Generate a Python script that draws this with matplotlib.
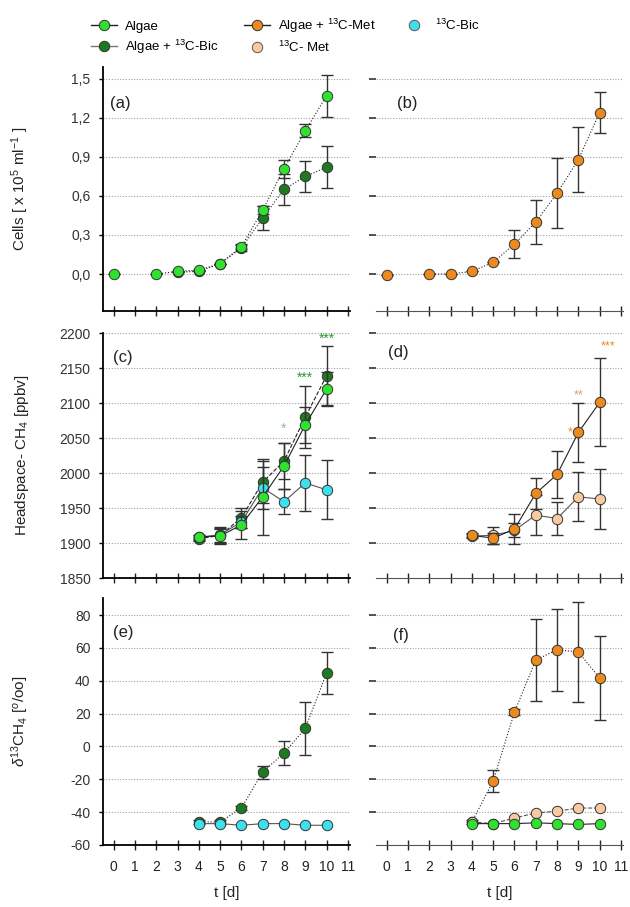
import matplotlib.pyplot as plt
from matplotlib.lines import Line2D
import numpy as np

plt.rcParams['font.family'] = ['Liberation Sans', 'DejaVu Sans']
plt.rcParams['mathtext.fontset'] = 'custom'
plt.rcParams['mathtext.rm'] = 'Liberation Sans'
plt.rcParams['mathtext.it'] = 'Liberation Sans:italic'

nan = np.nan

# --- cell counts (a, b) ---
days_cells = [0, 1, 2, 3, 4, 5, 6, 7, 8, 9, 10]
cells_algae = [0.0, nan, 0.0, 0.02, 0.03, 0.08, 0.21, 0.49, 0.81, 1.10, 1.37]
cells_algae_err = [0, 0, 0, 0, 0, 0, 0.02, 0.03, 0.07, 0.05, 0.16]
days_cells_bic = [3, 4, 5, 6, 7, 8, 9, 10]
cells_bic = [0.015, 0.02, 0.08, 0.20, 0.43, 0.65, 0.75, 0.82]
cells_bic_err = [0, 0, 0, 0.02, 0.09, 0.12, 0.12, 0.16]
cells_met = [-0.01, nan, 0.0, 0.0, 0.02, 0.09, 0.23, 0.40, 0.62, 0.88, 1.24]
cells_met_err = [0, 0, 0, 0, 0, 0, 0.11, 0.17, 0.27, 0.25, 0.16]

# --- headspace CH4 (c, d) ---
days = [4, 5, 6, 7, 8, 9, 10]
ch4_algae = [1909, 1910, 1926, 1966, 2010, 2069, 2120]
ch4_algae_err = [3, 10, 20, 54, 33, 26, 24]
ch4_bic = [1906, 1911, 1936, 1987, 2017, 2080, 2139]
ch4_bic_err = [3, 12, 14, 30, 26, 44, 42]
ch4_cbic = [1908, 1912, 1930, 1979, 1959, 1986, 1976]
ch4_cbic_err = [3, 10, 8, 30, 18, 40, 42]
ch4_met = [1911, 1907, 1920, 1971, 1998, 2058, 2101]
ch4_met_err = [3, 8, 22, 22, 34, 42, 63]
ch4_cmet = [1910, 1911, 1918, 1940, 1935, 1966, 1963]
ch4_cmet_err = [3, 12, 10, 29, 24, 35, 43]

# --- delta 13C (e, f) ---
d13_bic = [-46, -46, -37.5, -15.6, -4, 11, 44.7]
d13_bic_err = [1, 1, 1.5, 4, 7.5, 16, 13]
d13_cbic = [-47, -47, -48, -47, -47, -48, -48]
d13_met = [-46, -21, 21, 52.6, 59, 57.5, 41.7]
d13_met_err = [1, 6.5, 2, 25, 25, 30.5, 25.5]
d13_cmet = [-46, -47, -43.6, -40.5, -39.4, -37.5, -37.5]
d13_algae = [-47, -47, -47, -46.5, -47, -47.5, -47]

C_ALG = '#2fe22f'
C_BIC = '#1f7a1f'
C_MET = '#ec8a1e'
C_CMET = '#f7caa0'
C_CBIC = '#3fe0ee'


def series(ax, x, y, err, color, ls='-', lc='#222222', z=3, ecol='#333333'):
    if err is not None:
        ax.errorbar(x, y, yerr=err, fmt='none', ecolor=ecol, elinewidth=1,
                    capsize=4, capthick=1, zorder=z)
    ax.plot(x, y, ls=ls, color=lc, lw=0.8, marker='o', ms=7.5, mfc=color,
            mec='#333333', mew=0.7, zorder=z + 0.5)


def style(ax, left, yticks, ylabels, xlabels):
    ax.set_xlim(-0.5, 11.1)
    ax.set_xticks(range(12))
    ax.set_yticks(yticks)
    for yv in yticks:
        ax.axhline(yv, ls=(0, (1, 1.5)), color='#a0a0a0', lw=0.8, zorder=0)
    ax.spines['top'].set_visible(False)
    ax.spines['right'].set_visible(False)
    ax.tick_params(axis='x', direction='inout', length=7, width=1, pad=7,
                   labelsize=10, colors='#222222')
    if left:
        ax.spines['left'].set_linewidth(1.3)
        ax.spines['bottom'].set_linewidth(1.3)
        ax.set_yticklabels(ylabels)
        ax.tick_params(axis='y', length=3, width=1, pad=6, labelsize=10,
                       labelcolor='#333333')
    else:
        ax.spines['left'].set_visible(False)
        ax.spines['bottom'].set_color('#555555')
        ax.set_yticklabels([])
        ax.tick_params(axis='y', length=5, width=1.2, pad=2, color='#333333')
    if not xlabels:
        ax.set_xticklabels([])
    else:
        ax.set_xlabel('t [d]', fontsize=11, labelpad=9, color='#222222')


fig = plt.figure(figsize=(6.3, 9.07), dpi=100)
L, R, W = 0.1635, 0.597, 0.392
axa = fig.add_axes([L, 0.657, W, 0.269])
axb = fig.add_axes([R, 0.657, W, 0.269])
axc = fig.add_axes([L, 0.3627, W, 0.270])
axd = fig.add_axes([R, 0.3627, W, 0.270])
axe = fig.add_axes([L, 0.0684, W, 0.272])
axf = fig.add_axes([R, 0.0684, W, 0.272])

# (a)
series(axa, days_cells_bic, cells_bic, cells_bic_err, C_BIC, ls=':', z=3)
series(axa, days_cells, cells_algae, cells_algae_err, C_ALG, ls=':', z=4)
# (b)
series(axb, days_cells, cells_met, cells_met_err, C_MET, ls=':', z=3)

cell_ticks = [0.0, 0.3, 0.6, 0.9, 1.2, 1.5]
cell_labels = ['0,0', '0,3', '0,6', '0,9', '1,2', '1,5']
for ax in (axa, axb):
    ax.set_ylim(-0.285, 1.59)
style(axa, True, cell_ticks, cell_labels, False)
style(axb, False, cell_ticks, cell_labels, False)
axa.set_ylabel(r'Cells [ x 10$^5$ ml$^{-1}$ ]', fontsize=11, color='#222222')

# (c)
series(axc, days, ch4_bic, ch4_bic_err, C_BIC, ls='--', z=3)
series(axc, days, ch4_cbic, ch4_cbic_err, C_CBIC, ls='-', lc='#555555', z=4)
series(axc, days, ch4_algae, ch4_algae_err, C_ALG, ls='-', z=5)
axc.text(8, 2058, '*', color='#8fbf8f', ha='center', fontsize=10)
axc.text(9, 2130, '***', color='#2a9a2a', ha='center', fontsize=10)
axc.text(10, 2186, '***', color='#2a9a2a', ha='center', fontsize=10)
# (d)
series(axd, days, ch4_cmet, ch4_cmet_err, C_CMET, ls='-', lc='#555555', z=3)
series(axd, days, ch4_met, ch4_met_err, C_MET, ls='-', z=4)
axd.text(8.6, 2054, '*', color=C_MET, ha='center', fontsize=9)
axd.text(9, 2106, '**', color='#d9a070', ha='center', fontsize=9)
axd.text(10.4, 2176, '***', color=C_MET, ha='center', fontsize=9)

ch4_ticks = [1850, 1900, 1950, 2000, 2050, 2100, 2150, 2200]
for ax in (axc, axd):
    ax.set_ylim(1850, 2200)
style(axc, True, ch4_ticks[1:], [str(t) for t in ch4_ticks[1:]], False)
axc.set_yticks(ch4_ticks)
axc.set_yticklabels([str(t) for t in ch4_ticks])
style(axd, False, ch4_ticks[1:], [], False)
axc.set_ylabel(r'Headspace- CH$_4$ [ppbv]', fontsize=11, color='#222222')

# (e)
series(axe, days, d13_bic, d13_bic_err, C_BIC, ls=':', z=3)
series(axe, days, d13_cbic, None, C_CBIC, ls='-', lc='#555555', z=4)
# (f)
series(axf, days, d13_met, d13_met_err, C_MET, ls=':', z=3)
series(axf, days, d13_cmet, None, C_CMET, ls='--', lc='#555555', z=4)
series(axf, days, d13_algae, None, C_ALG, ls='-', z=5)

d13_ticks = [-40, -20, 0, 20, 40, 60, 80]
for ax in (axe, axf):
    ax.set_ylim(-60, 90.3)
style(axe, True, d13_ticks, [], True)
axe.set_yticks([-60] + d13_ticks)
axe.set_yticklabels([str(t) for t in [-60] + d13_ticks])
style(axf, False, d13_ticks, [], True)
axe.set_ylabel(r'$\delta^{13}$CH$_4$ [$^o$/oo]', fontsize=11, color='#222222')

for ax in (axa, axc, axe):
    ax.yaxis.set_label_coords(-0.29, 0.5)

for ax, lab, pos in ((axa, '(a)', (0.03, 0.85)), (axb, '(b)', (0.085, 0.85)),
                     (axc, '(c)', (0.04, 0.90)), (axd, '(d)', (0.05, 0.92)),
                     (axe, '(e)', (0.04, 0.86)), (axf, '(f)', (0.07, 0.85))):
    ax.text(pos[0], pos[1], lab, transform=ax.transAxes, fontsize=12,
            va='center', color='#222222')

handles = [
    Line2D([], [], color='#222222', lw=1, marker='o', ms=7.5, mfc=C_ALG, mec='#333333', mew=0.7),
    Line2D([], [], color='#777777', lw=1, marker='o', ms=7.5, mfc=C_BIC, mec='#333333', mew=0.7),
    Line2D([], [], color='#222222', lw=1, marker='o', ms=7.5, mfc=C_MET, mec='#333333', mew=0.7),
    Line2D([], [], ls='none', marker='o', ms=7.5, mfc=C_CMET, mec='#555555', mew=0.7),
    Line2D([], [], ls='none', marker='o', ms=7.5, mfc=C_CBIC, mec='#555555', mew=0.7),
]
labels = ['Algae', r'Algae + $^{13}$C-Bic', r'Algae + $^{13}$C-Met',
          r'$^{13}$C- Met', r'$^{13}$C-Bic']
fig.legend(handles, labels, ncol=3, loc='upper left', bbox_to_anchor=(0.125, 0.995),
           frameon=False, fontsize=9.5, handlelength=2.0, columnspacing=1.9,
           handletextpad=0.6, labelspacing=0.4)

fig.savefig('out.png', dpi=100)
